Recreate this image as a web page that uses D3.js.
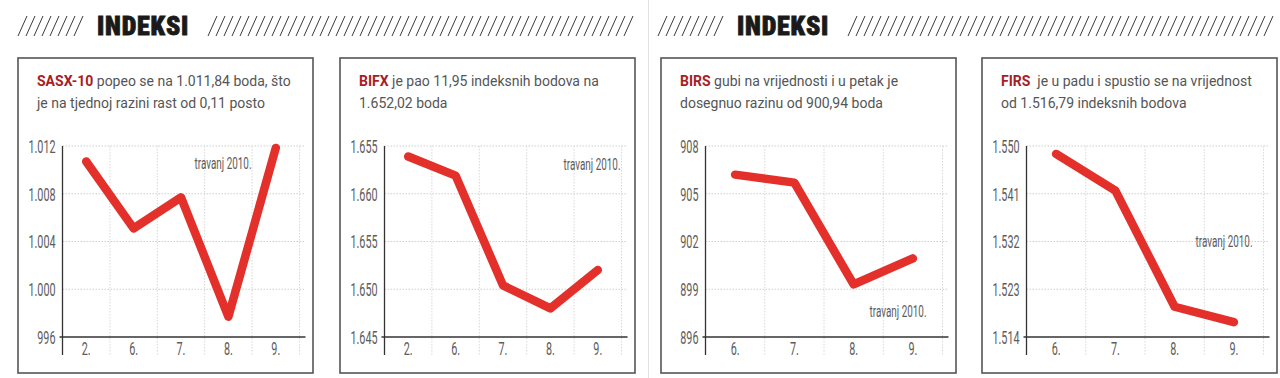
<!DOCTYPE html>
<html>
<head>
<meta charset="utf-8">
<script src="https://cdn.jsdelivr.net/npm/d3@7"></script>
<style>
  html, body { margin: 0; padding: 0; background: #fff; }
  svg { display: block; }
</style>
</head>
<body>
<svg id="chart" width="1280" height="378"></svg>
<script>
// ---------- DATA ----------
const sasxDays = ["2.", "6.", "7.", "8.", "9."];
const sasxValues = [1010.7, 1005.1, 1007.7, 997.7, 1011.84];
const sasxTicks = [996, 1000, 1004, 1008, 1012];
const sasxTickLabels = ["996", "1.000", "1.004", "1.008", "1.012"];

const bifxDays = ["2.", "6.", "7.", "8.", "9."];
const bifxValues = [1663.9, 1661.9, 1650.4, 1648.0, 1652.02];
const bifxTicks = [1645, 1650, 1655, 1660, 1665];
const bifxTickLabels = ["1.645", "1.650", "1.655", "1.660", "1.655"];

const birsDays = ["6.", "7.", "8.", "9."];
const birsValues = [906.2, 905.7, 899.3, 900.94];
const birsTicks = [896, 899, 902, 905, 908];
const birsTickLabels = ["896", "899", "902", "905", "908"];

const firsDays = ["6.", "7.", "8.", "9."];
const firsValues = [1548.5, 1541.6, 1519.7, 1516.79];
const firsTicks = [1514, 1523, 1532, 1541, 1550];
const firsTickLabels = ["1.514", "1.523", "1.532", "1.541", "1.550"];

const titleBold = ["SASX-10", "BIFX", "BIRS", "FIRS"];
const titleLine1 = [" popeo se na 1.011,84 boda, što", " je pao 11,95 indeksnih bodova na", " gubi na vrijednosti i u petak je", "  je u padu i spustio se na vrijednost"];
const titleLine2 = ["je na tjednoj razini rast od 0,11 posto", "1.652,02 boda", "dosegnuo razinu od 900,94 boda", "od 1.516,79 indeksnih bodova"];
const periodLabel = "travanj 2010.";
const headerText = "INDEKSI";

// ---------- LAYOUT ----------
const svg = d3.select("#chart");
const RED = "#e4302a";
const DARKRED = "#a81c24";
const GRAY = "#555";
const LABEL = "#5c5c5c";
const COND = 0.6; // horizontal squeeze for condensed look

const panels = [
  { x: 18,  days: sasxDays, values: sasxValues, ticks: sasxTicks, labels: sasxTickLabels, note: [189, 169] },
  { x: 340, days: bifxDays, values: bifxValues, ticks: bifxTicks, labels: bifxTickLabels, note: [236, 170] },
  { x: 661, days: birsDays, values: birsValues, ticks: birsTicks, labels: birsTickLabels, note: [221, 317] },
  { x: 982, days: firsDays, values: firsValues, ticks: firsTicks, labels: firsTickLabels, note: [226, 247] }
];

// ---------- HEADERS ----------
function header(x0) {
  const g = svg.append("g");
  const hatch = (a, b) => {
    d3.range(a, b, 8).forEach(x => {
      g.append("line").attr("x1", x).attr("y1", 36).attr("x2", x + 9).attr("y2", 16)
        .attr("stroke", "#3a3a3a").attr("stroke-width", 1);
    });
  };
  hatch(x0 + 0, x0 + 60);
  hatch(x0 + 190, x0 + 612);
  g.append("text").attr("transform", `translate(${x0 + 79},35)`)
    .attr("font-family", "'Liberation Sans Narrow','Roboto Condensed','DejaVu Sans Condensed',sans-serif")
    .attr("font-weight", 900).attr("font-size", 26).attr("fill", "#1a1a1a")
    .attr("stroke", "#1a1a1a").attr("stroke-width", 0.8)
    .attr("letter-spacing", 0.8)
    .text(headerText);
}
header(18);
header(658);
svg.append("line").attr("x1", 648.5).attr("x2", 648.5).attr("y1", 0).attr("y2", 378)
  .attr("stroke", "#e2e2e2").attr("stroke-width", 1);

// ---------- PANELS ----------
const plotTop = 146, plotBottom = 337, axisBottom = 355, plotW = 237;

panels.forEach((p, i) => {
  const g = svg.append("g");
  // box
  g.append("rect").attr("x", p.x).attr("y", 58).attr("width", 295).attr("height", 315)
    .attr("fill", "none").attr("stroke", "#555").attr("stroke-width", 1.6);

  // title
  const t1 = g.append("text").attr("x", p.x + 19).attr("y", 86)
    .attr("font-family", "Roboto, sans-serif").attr("font-size", 14).attr("fill", GRAY)
    .style("white-space", "pre");
  t1.append("tspan").attr("font-weight", 700).attr("fill", DARKRED).text(titleBold[i]);
  t1.append("tspan").text(titleLine1[i]);
  g.append("text").attr("x", p.x + 19).attr("y", 108)
    .attr("font-family", "Roboto, sans-serif").attr("font-size", 14).attr("fill", GRAY)
    .text(titleLine2[i]);

  const left = p.x + 44.5;
  const x = d3.scaleBand().domain(p.days).range([left, left + plotW]);
  const y = d3.scaleLinear().domain([p.ticks[0], p.ticks[p.ticks.length - 1]]).range([plotBottom, plotTop]);

  // horizontal grid
  g.append("g").selectAll("line").data(p.ticks.slice(1)).join("line")
    .attr("x1", left).attr("x2", left + plotW + 6)
    .attr("y1", d => y(d)).attr("y2", d => y(d))
    .attr("stroke", "#cfcfcf").attr("stroke-width", 1).attr("stroke-dasharray", "1.5,1.5");
  // vertical grid (band boundaries)
  g.append("g").selectAll("line").data(p.days).join("line")
    .attr("x1", d => x(d) + x.bandwidth()).attr("x2", d => x(d) + x.bandwidth())
    .attr("y1", plotTop).attr("y2", axisBottom)
    .attr("stroke", "#d8d8d8").attr("stroke-width", 1).attr("stroke-dasharray", "1.5,1.5");

  // y axis via d3
  const ya = d3.axisLeft(y).tickValues(p.ticks).tickSize(0).tickPadding(7)
    .tickFormat((d, k) => p.labels[k]);
  const yg = g.append("g").attr("transform", `translate(${left},0)`).call(ya);
  yg.select(".domain").remove();
  yg.selectAll("text")
    .attr("x", -7 / COND).attr("dy", "0.36em")
    .attr("transform", `scale(${COND},1)`)
    .attr("font-family", "Roboto, sans-serif")
    .attr("font-size", 18).attr("fill", LABEL);

  // x axis labels via d3
  const xa = d3.axisBottom(x).tickSize(0).tickPadding(0);
  const xg = g.append("g").attr("transform", `translate(0,${plotBottom})`).call(xa);
  xg.select(".domain").remove();
  xg.selectAll(".tick text")
    .attr("y", 0).attr("dy", 0)
    .attr("transform", `translate(0,17.5) scale(${COND},1)`)
    .attr("font-family", "Roboto, sans-serif")
    .attr("font-size", 18).attr("fill", LABEL);

  // axis lines
  g.append("line").attr("x1", left).attr("x2", left).attr("y1", plotTop).attr("y2", axisBottom)
    .attr("stroke", "#333").attr("stroke-width", 1.3);
  g.append("line").attr("x1", left - 3).attr("x2", left + plotW + 6).attr("y1", plotBottom).attr("y2", plotBottom)
    .attr("stroke", "#333").attr("stroke-width", 1.3);

  // note
  g.append("text").attr("transform", `translate(${left + p.note[0]},${p.note[1]}) scale(${COND},1)`)
    .attr("text-anchor", "end")
    .attr("font-family", "Roboto, sans-serif")
    .attr("font-size", 16.5).attr("fill", LABEL).text(periodLabel);

  // line
  const line = d3.line().x((d, k) => x(p.days[k]) + x.bandwidth() / 2).y(d => y(d));
  g.append("path").datum(p.values).attr("d", line)
    .attr("fill", "none").attr("stroke", RED).attr("stroke-width", 8.5)
    .attr("stroke-linecap", "round").attr("stroke-linejoin", "round");
});
</script>
</body>
</html>
